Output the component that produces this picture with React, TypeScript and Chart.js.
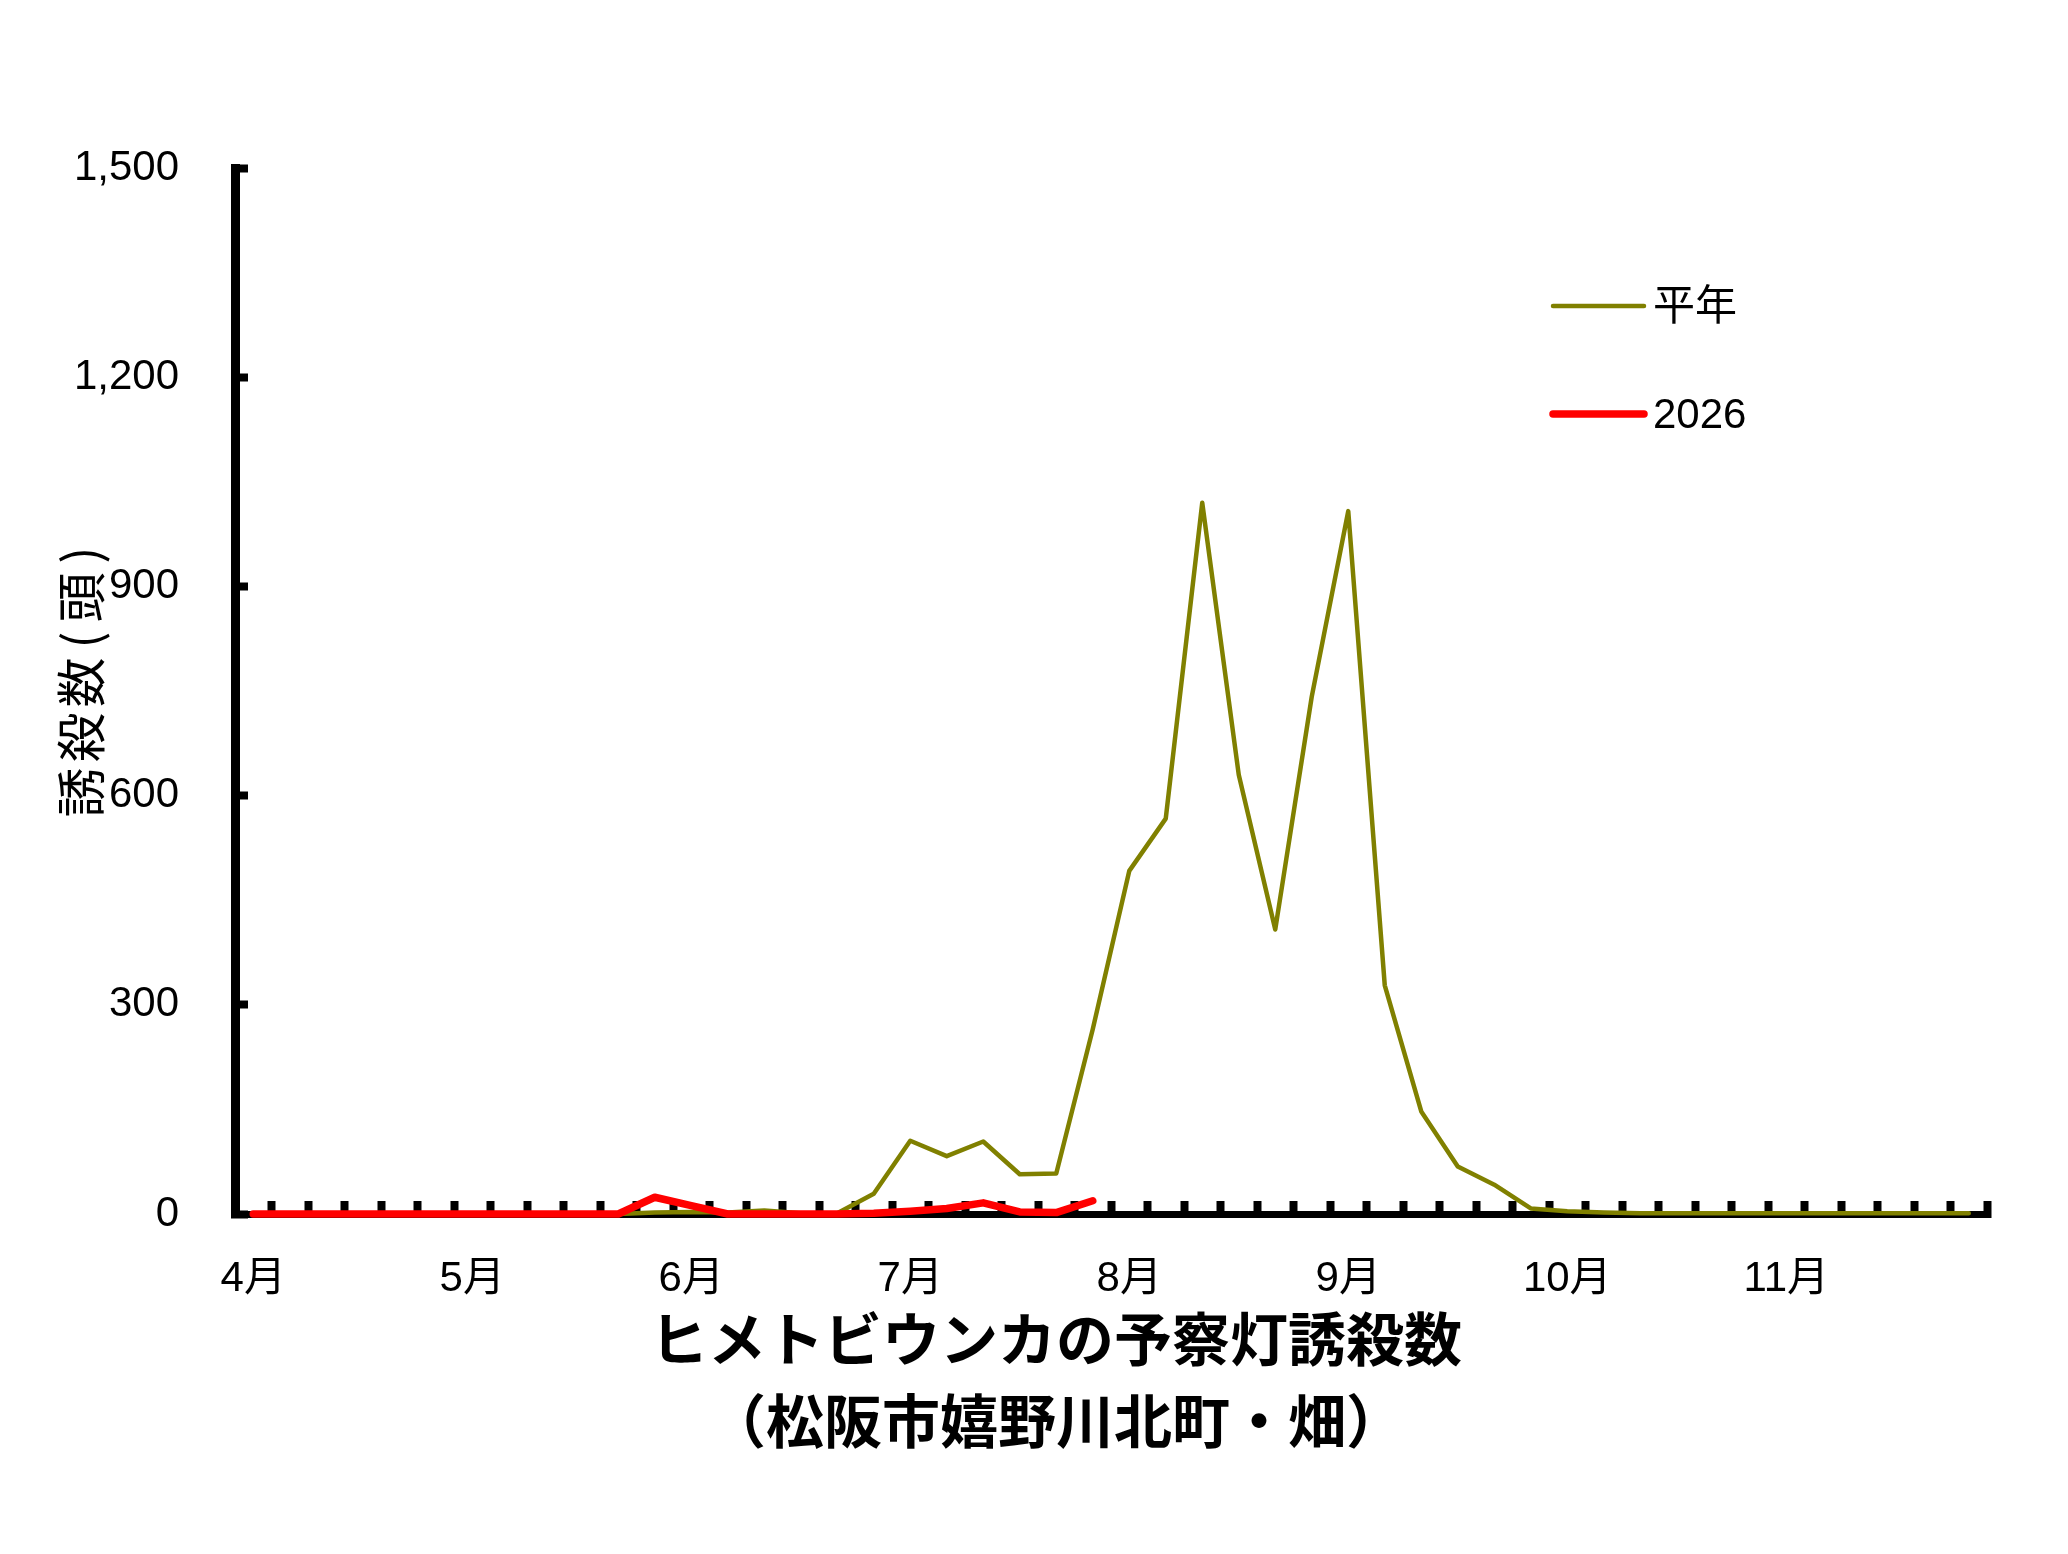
import React, { useEffect, useRef } from "react";
import { Chart, registerables } from "chart.js";

Chart.register(...registerables);

// ---- data ----
const months = ["4月", "5月", "6月", "7月", "8月", "9月", "10月", "11月"];
const periodsPerMonth = 6; // 半旬
const categories = months.flatMap((m) =>
  [1, 2, 3, 4, 5, 6].map((k) => `${m}第${k}半旬`)
);

const seriesNames = ["平年", "2026"];

const normalYear = [
  0, 0, 0, 0, 0, 0,
  0, 0, 0, 0, 0, 2,
  3, 2, 5, 1, 1, 29,
  105, 83, 104, 57, 58, 265,
  492, 567, 1020, 630, 408, 742,
  1008, 328, 147, 68, 42, 8,
  4, 2, 1, 1, 1, 1,
  1, 1, 1, 1, 1, 1,
];

const year2026 = [
  0, 0, 0, 0, 0, 0,
  0, 0, 0, 0, 0, 24,
  12, 0, 0, 0, 0, 1,
  4, 8, 16, 3, 2, 19,
];

const yMin = 0;
const yMax = 1500;
const yStep = 300;

const titleLines = ["ヒメトビウンカの予察灯誘殺数", "（松阪市嬉野川北町・畑）"];
const yAxisTitle = "誘殺数(頭)";

const seriesColors = ["#808000", "#ff0000"];

const W = 2052;
const H = 1530;
const LATIN = '"Liberation Sans", "Noto Sans CJK JP", sans-serif';
const CJK = '"Noto Sans CJK JP", "Liberation Sans", sans-serif';

const legendPlugin = {
  id: "customLegend",
  afterDatasetsDraw(chart: any) {
    const { ctx, chartArea } = chart;
    ctx.save();
    chart.data.datasets.forEach((ds: any, i: number) => {
      const y = chartArea.top + 138 + i * 108;
      const x0 = chartArea.left + 1318;
      const x1 = x0 + 91;
      ctx.beginPath();
      ctx.strokeStyle = ds.borderColor;
      ctx.lineWidth = ds.borderWidth;
      ctx.lineCap = "round";
      ctx.moveTo(x0, y);
      ctx.lineTo(x1, y);
      ctx.stroke();
      ctx.fillStyle = "#000";
      ctx.font = `42px ${LATIN}`;
      ctx.textAlign = "left";
      ctx.textBaseline = "middle";
      ctx.fillText(ds.label, x1 + 9, y + 2);
    });
    ctx.restore();
  },
};

const textPlugin = {
  id: "extraText",
  afterDraw(chart: any) {
    const { ctx, chartArea } = chart;
    ctx.save();
    ctx.fillStyle = "#000";
    // bottom titles
    ctx.font = `bold 58px ${CJK}`;
    ctx.textAlign = "center";
    ctx.textBaseline = "middle";
    titleLines.forEach((t, i) => {
      ctx.fillText(t, chartArea.left + 821, chartArea.bottom + 125 + i * 82);
    });
    // rotated y-axis title
    const chars = Array.from(yAxisTitle);
    const adv = chars.map((c) => (c === "(" || c === ")" ? 30 : 55));
    const total = adv.reduce((a, b) => a + b, 0);
    ctx.font = `50px ${CJK}`;
    ctx.translate(73, (chartArea.top + chartArea.bottom) / 2 - 11);
    ctx.rotate(-Math.PI / 2);
    let pos = -total / 2;
    chars.forEach((c, i) => {
      ctx.fillText(c, pos + adv[i] / 2, 0);
      pos += adv[i];
    });
    ctx.restore();
  },
};

export default function App() {
  const ref = useRef<HTMLCanvasElement | null>(null);

  useEffect(() => {
    if (!ref.current) return;
    const chart = new Chart(ref.current, {
      type: "line",
      data: {
        labels: categories,
        datasets: [
          {
            label: seriesNames[0],
            data: normalYear,
            borderColor: seriesColors[0],
            backgroundColor: seriesColors[0],
            borderWidth: 4.5,
            pointRadius: 0,
            tension: 0,
            fill: false,
            order: 1,
            clip: false,
            borderJoinStyle: "round",
            borderCapStyle: "round",
          },
          {
            label: seriesNames[1],
            data: year2026,
            borderColor: seriesColors[1],
            backgroundColor: seriesColors[1],
            borderWidth: 7.5,
            pointRadius: 0,
            tension: 0,
            fill: false,
            order: 0,
            clip: false,
            borderJoinStyle: "round",
            borderCapStyle: "round",
          },
        ],
      },
      options: {
        animation: false,
        responsive: false,
        devicePixelRatio: 1,
        events: [],
        layout: { padding: { left: 0, right: 73, top: 160, bottom: 0 } },
        plugins: {
          legend: { display: false },
          title: { display: false },
          tooltip: { enabled: false },
        },
        scales: {
          x: {
            type: "category",
            offset: true,
            afterFit(scale: any) {
              scale.height = H - 1206;
            },
            grid: {
              display: true,
              offset: true,
              drawOnChartArea: false,
              drawTicks: true,
              tickLength: -13,
              tickWidth: 8,
              tickColor: "#000",
              color: "#000",
            },
            border: { display: true, width: 7, color: "#000" },
            ticks: {
              autoSkip: false,
              maxRotation: 0,
              minRotation: 0,
              padding: 53,
              color: "#000",
              font: { size: 42, family: LATIN },
              callback: (_v: any, i: number) =>
                i % periodsPerMonth === 0 ? months[i / periodsPerMonth] : "",
            },
          },
          y: {
            min: yMin,
            max: yMax,
            afterFit(scale: any) {
              scale.width = 227;
            },
            grid: {
              display: true,
              drawOnChartArea: false,
              drawTicks: true,
              tickLength: -13,
              tickWidth: 8,
              tickColor: "#000",
              color: "#000",
            },
            border: { display: true, width: 9, color: "#000" },
            ticks: {
              stepSize: yStep,
              padding: 69,
              color: "#000",
              font: { size: 42, family: LATIN },
              callback: (v: any) => Number(v).toLocaleString("en-US"),
            },
          },
        },
      },
      plugins: [legendPlugin, textPlugin],
    } as any);
    return () => chart.destroy();
  }, []);

  return (
    <div style={{ width: W, height: H, background: "#fff" }}>
      <canvas
        ref={ref}
        width={W}
        height={H}
        style={{ display: "block", width: W, height: H }}
      />
    </div>
  );
}
